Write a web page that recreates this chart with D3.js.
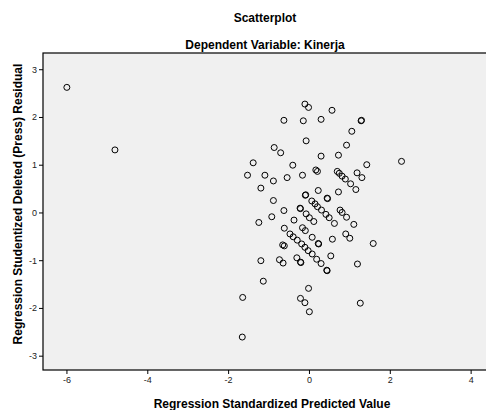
<html>
<head>
<style>
  body { margin: 0; background: white; }
  svg { display: block; }
</style>
<script src="https://cdn.jsdelivr.net/npm/d3@7"></script>
</head>
<body>
<svg id="main"></svg>
<script>
// predicted value (x) and studentized deleted residual (y)
const predicted = [
  -5.99, -4.80, -0.10, -0.01, 0.57, -0.62, -0.14, 0.30, 1.29, 1.30,
  1.06, -0.07, 0.93, -0.86, -0.70, 0.30, 0.73, -1.38, -0.40, 1.43,
  2.29, -1.52, -1.09, -0.54, -0.16, 0.17, 0.21, 0.70, 0.75, 0.82,
  0.90, 1.03, 1.19, 1.31, -0.88, -1.19, 0.23, 0.73, 1.16, -0.09,
  -0.08, 0.45, 0.46, -0.88, -0.22, -0.21, -0.62, 0.07, 0.15, 0.21,
  0.31, 0.42, 0.50, 0.63, -0.07, 0.01, 0.12, 0.77, 0.82, 0.93,
  1.11, -0.92, -1.24, -0.37, -0.61, -0.16, -0.09, -0.47, -0.39, -0.29,
  -0.18, -0.10, -0.02, 0.08, 0.19, 0.30, 0.08, 0.58, 0.91, 1.01,
  1.59, 0.23, 0.24, -0.65, -0.61, -1.19, -0.73, -0.64, -0.30, -0.21,
  -0.20, 0.54, 1.20, 0.44, 0.45, -1.13, -1.64, -0.01, -0.21, -0.10,
  0.01, -1.65, 1.27
]
const residual = [
  2.62, 1.31, 2.27, 2.20, 2.14, 1.93, 1.92, 1.95, 1.92, 1.93,
  1.70, 1.50, 1.41, 1.36, 1.25, 1.18, 1.20, 1.04, 0.99, 1.00,
  1.07, 0.78, 0.78, 0.73, 0.78, 0.89, 0.86, 0.86, 0.82, 0.76,
  0.70, 0.60, 0.83, 0.73, 0.66, 0.51, 0.46, 0.43, 0.48, 0.36,
  0.37, 0.30, 0.29, 0.25, 0.09, 0.08, 0.04, 0.24, 0.18, 0.12,
  0.05, -0.04, -0.11, -0.23, -0.03, -0.11, -0.19, 0.05, 0.00, -0.10,
  -0.25, -0.09, -0.21, -0.16, -0.33, -0.32, -0.38, -0.45, -0.51, -0.58,
  -0.66, -0.73, -0.80, -0.87, -0.98, -1.07, -0.52, -0.56, -0.45, -0.54,
  -0.65, -0.65, -0.66, -0.68, -0.70, -1.01, -0.99, -1.06, -0.95, -1.04,
  -1.05, -0.91, -1.08, -1.21, -1.22, -1.44, -1.78, -1.59, -1.80, -1.89,
  -2.08, -2.61, -1.90
]
const xTicks = [-6, -4, -2, 0, 2, 4]
const yTicks = [-3, -2, -1, 0, 1, 2, 3]

const width = 486
const height = 410
const font = "Arial, 'Liberation Sans', sans-serif"

const plot = {left: 43, top: 53, right: 486, bottom: 370}

const svg = d3.select("#main")
  .attr("width", width)
  .attr("height", height)

const x = d3.scaleLinear().domain([-6.58, 4.38]).range([plot.left, plot.right])
const y = d3.scaleLinear().domain([-3.30, 3.34]).range([plot.bottom, plot.top])

// plot background + frame
svg.append("rect")
  .attr("x", plot.left)
  .attr("y", plot.top)
  .attr("width", plot.right - plot.left + 10)
  .attr("height", plot.bottom - plot.top)
  .attr("fill", "#f0f0f0")
  .attr("stroke", "black")
  .attr("stroke-width", 1.2)

// axes
const xAxis = svg.append("g")
  .attr("transform", `translate(0,${plot.bottom})`)
  .call(d3.axisBottom(x).tickValues(xTicks).tickSize(4).tickPadding(3).tickFormat(d3.format("d")))
xAxis.select(".domain").remove()

const yAxis = svg.append("g")
  .attr("transform", `translate(${plot.left},0)`)
  .call(d3.axisLeft(y).tickValues(yTicks).tickSize(4).tickPadding(2).tickFormat(d3.format("d")))
yAxis.select(".domain").remove()

svg.selectAll(".tick text")
  .attr("font-family", font)
  .attr("font-size", 9)
  .attr("fill", "#222")
  .text(d => d < 0 ? "-" + Math.abs(d) : d)

// points
svg.append("g")
  .attr("fill", "none")
  .attr("stroke", "black")
  .attr("stroke-width", 1)
  .selectAll("circle")
  .data(predicted.map((p, i) => ({p, r: residual[i]})))
  .join("circle")
  .attr("cx", d => x(d.p))
  .attr("cy", d => y(d.r))
  .attr("r", 3)

// titles
svg.append("text")
  .attr("x", 265).attr("y", 22)
  .attr("text-anchor", "middle")
  .attr("font-family", font).attr("font-size", 12).attr("font-weight", "bold")
  .text("Scatterplot")

svg.append("text")
  .attr("x", 265).attr("y", 49)
  .attr("text-anchor", "middle")
  .attr("font-family", font).attr("font-size", 12).attr("font-weight", "bold")
  .text("Dependent Variable: Kinerja")

svg.append("text")
  .attr("x", 272).attr("y", 408)
  .attr("text-anchor", "middle")
  .attr("font-family", font).attr("font-size", 12).attr("font-weight", "bold")
  .text("Regression Standardized Predicted Value")

svg.append("text")
  .attr("transform", "translate(22,204) rotate(-90)")
  .attr("text-anchor", "middle")
  .attr("font-family", font).attr("font-size", 12).attr("font-weight", "bold")
  .text("Regression Studentized Deleted (Press) Residual")
</script>
</body>
</html>
